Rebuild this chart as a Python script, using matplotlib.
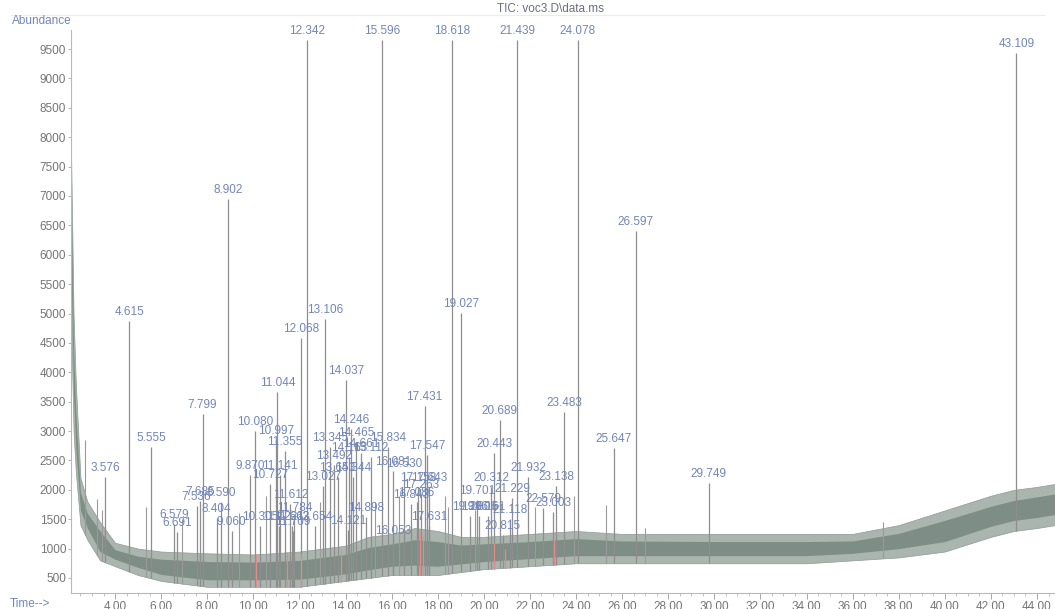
import numpy as np
import matplotlib
matplotlib.use("Agg")
import matplotlib.pyplot as plt
from matplotlib.ticker import MultipleLocator, FormatStrFormatter

plt.rcParams['font.family'] = ['Liberation Sans', 'DejaVu Sans']

# labelled peaks: retention time (min) and apex abundance
peak_times = [3.576, 4.615, 5.555, 6.579, 6.691, 7.536, 7.685, 7.799, 8.404, 8.590,
              8.902, 9.060, 9.870, 10.080, 10.305, 10.727, 10.997, 11.044, 11.122, 11.141,
              11.355, 11.612, 11.663, 11.709, 11.784, 12.068, 12.342, 12.654, 13.027, 13.106,
              13.345, 13.492, 13.653, 14.037, 14.121, 14.163, 14.246, 14.344, 14.465, 14.661,
              14.898, 15.112, 15.596, 15.834, 16.053, 16.081, 16.530, 16.843, 17.086, 17.158,
              17.263, 17.431, 17.547, 17.631, 17.643, 18.618, 19.027, 19.386, 19.701, 19.806,
              20.161, 20.312, 20.443, 20.689, 20.815, 21.118, 21.229, 21.439, 21.932, 22.579,
              23.003, 23.138, 23.483, 24.078, 25.647, 26.597, 29.749, 43.109]
peak_heights = [2218, 4873, 2729, 1419, 1283, 1725, 1810, 3290, 1521, 1793,
                6948, 1300, 2253, 3001, 1385, 2100, 2848, 3665, 1385, 2253,
                2661, 1759, 1385, 1300, 1538, 4583, 9650, 1385, 2066, 4907,
                2729, 2423, 2218, 3869, 1317, 2559, 3035, 2218, 2814, 2627,
                1538, 2559, 9650, 2729, 1147, 2321, 2287, 1759, 1793, 2049,
                1930, 3426, 2593, 1385, 2049, 9650, 5009, 1555, 1827, 1555,
                1555, 2049, 2627, 3188, 1232, 1504, 1861, 9650, 2218, 1691,
                1623, 2066, 3324, 9650, 2712, 6404, 2117, 9430]

# smaller unlabelled spikes
spike_times = [2.70, 3.20, 3.45, 5.35, 6.90, 9.40, 10.55, 12.90, 15.30, 16.30,
               18.30, 18.45, 19.60, 22.20, 23.90, 25.30, 27.00, 37.30]
spike_heights = [2850, 1850, 1650, 1700, 1500, 1600, 1900, 1800, 1800, 1900,
                 1900, 1700, 1650, 1700, 1900, 1750, 1350, 1450]

# integration marks drawn in red near the baseline
red_times = [10.10, 11.45, 12.05, 13.80, 17.25, 17.35, 20.45, 20.90, 23.05]
red_heights = [900, 950, 900, 1000, 1300, 1200, 1100, 1000, 1150]

# noisy baseline: outer envelope and denser core
base_t = [2.09, 2.20, 2.30, 2.50, 2.80, 3.35, 4.00, 5.00, 6.00, 8.00, 10.00, 12.00,
          14.00, 15.00, 16.00, 17.00, 18.00, 19.00, 20.00, 22.00, 24.00, 26.00, 30.00,
          34.00, 36.00, 38.00, 40.00, 42.00, 43.00, 44.00, 44.78]
base_lo = [5000, 3000, 2300, 1400, 1150, 800, 700, 550, 450, 350, 350, 350,
           450, 500, 550, 550, 550, 600, 650, 700, 750, 750, 750,
           750, 800, 850, 950, 1200, 1300, 1350, 1400]
base_hi = [7800, 5000, 3800, 2200, 1800, 1450, 1100, 1000, 950, 920, 900, 950,
           1050, 1200, 1250, 1350, 1300, 1200, 1200, 1250, 1300, 1250, 1250,
           1250, 1250, 1400, 1650, 1900, 2000, 2050, 2100]
core_lo = [5800, 3600, 2700, 1650, 1350, 950, 820, 680, 560, 470, 470, 480,
           570, 640, 700, 720, 700, 740, 780, 830, 880, 880, 880,
           880, 920, 1000, 1120, 1380, 1480, 1530, 1580]
core_hi = [7200, 4400, 3300, 1950, 1600, 1300, 980, 870, 820, 780, 770, 800,
           900, 1020, 1080, 1150, 1120, 1060, 1080, 1120, 1170, 1130, 1120,
           1120, 1130, 1260, 1480, 1720, 1820, 1880, 1930]

fig = plt.figure(figsize=(10.55, 6.09), dpi=100)
ax = fig.add_axes([0.0673, 0.0263, 0.9327, 0.9244])

ax.fill_between(base_t, base_lo, base_hi, color='#a9b5ae', lw=0.5,
                edgecolor='#8d9a93', zorder=2)
ax.fill_between(base_t, core_lo, core_hi, color='#7e8d85', lw=0, zorder=2)

lo_pk = np.interp(peak_times, base_t, base_lo)
ax.vlines(peak_times, lo_pk, peak_heights, color='#8e8e8e', lw=0.9, zorder=3)
lo_sp = np.interp(spike_times, base_t, base_lo)
ax.vlines(spike_times, lo_sp, spike_heights, color='#9a9a9a', lw=0.8, zorder=3)
lo_red = np.interp(red_times, base_t, base_lo)
ax.vlines(red_times, lo_red, red_heights, color='#e58a8a', lw=0.9, zorder=4)

for t, h in zip(peak_times, peak_heights):
    ax.annotate(f"{t:.3f}", (t, h), xytext=(0, 2), textcoords='offset points',
                ha='center', va='bottom', fontsize=8.5, color='#7386b8', zorder=5)

ax.set_xlim(2.09, 44.78)
ax.set_ylim(245, 9823)
ax.xaxis.set_major_locator(MultipleLocator(2))
ax.xaxis.set_minor_locator(MultipleLocator(0.5))
ax.xaxis.set_major_formatter(FormatStrFormatter('%.2f'))
ax.yaxis.set_major_locator(MultipleLocator(500))

for s in ['top', 'right']:
    ax.spines[s].set_visible(False)
for s in ['left', 'bottom']:
    ax.spines[s].set_color('#b8b8b8')
    ax.spines[s].set_linewidth(0.8)
ax.tick_params(axis='x', which='major', length=4, width=0.7, color='#a8a8a8',
               labelsize=8.5, labelcolor='#757575', pad=2)
ax.tick_params(axis='x', which='minor', length=2, width=0.6, color='#b8b8b8')
ax.tick_params(axis='y', length=2, width=0.6, color='#a8a8a8',
               labelsize=8.5, labelcolor='#757575', pad=1.5)

fig.text(0.0115, 0.965, "Abundance", fontsize=8.5, color='#7386b8', va='center')
fig.text(0.0095, 0.008, "Time-->", fontsize=8.5, color='#7386b8', va='center')
fig.text(0.522, 0.985, "TIC: voc3.D\\data.ms", fontsize=8.5, color='#6a6e80',
         ha='center', va='center')
fig.add_artist(plt.Line2D([0.01, 0.99], [0.975, 0.975], color='#ececec', lw=0.8))

fig.savefig("out.png", dpi=100)
